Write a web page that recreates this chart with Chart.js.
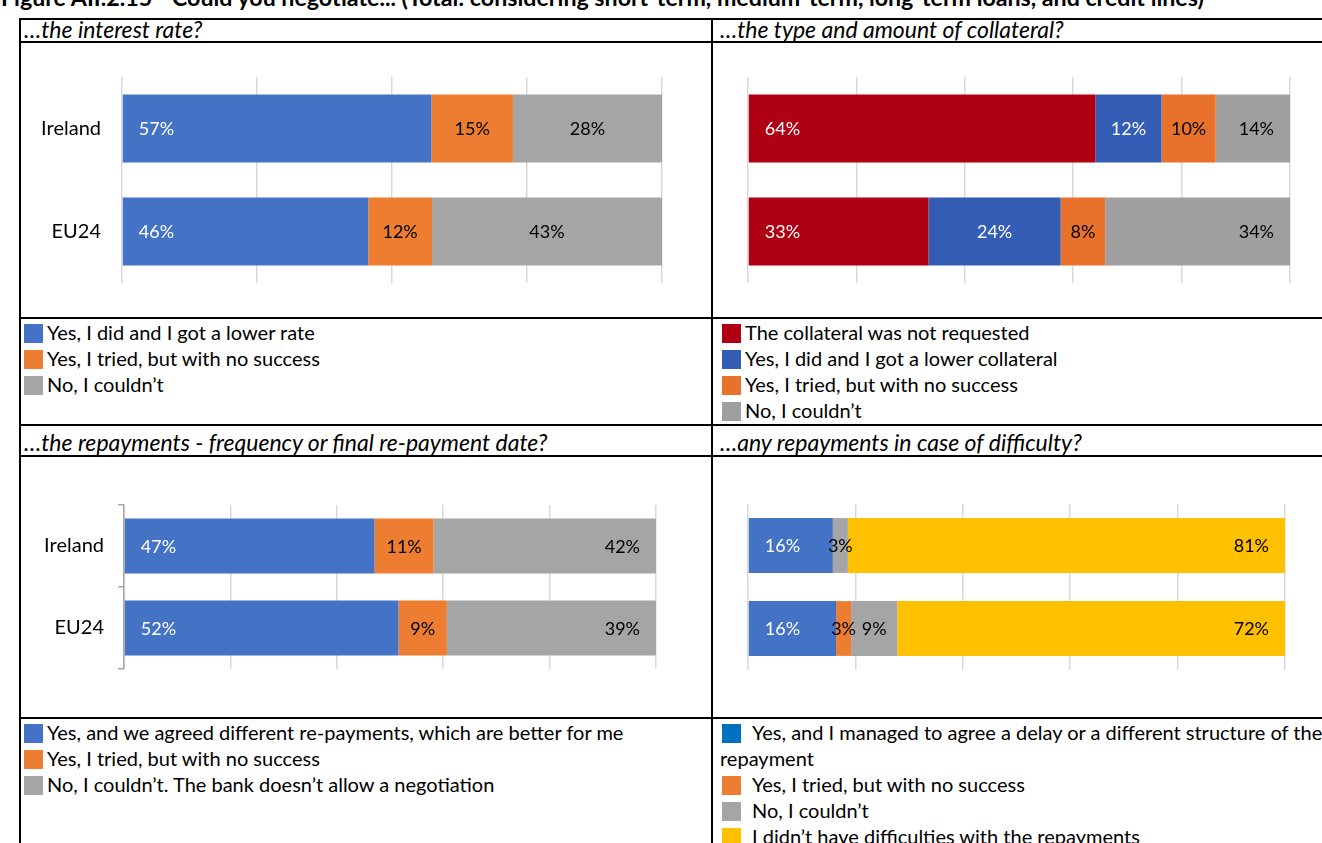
<!DOCTYPE html>
<html>
<head>
<meta charset="utf-8">
<script src="https://cdn.jsdelivr.net/npm/chart.js@4.4.1/dist/chart.umd.min.js"></script>
<style>
  html, body { margin:0; padding:0; background:#fff; }
  body { width:1322px; height:843px; overflow:hidden; position:relative; font-family:Lato, "Open Sans", sans-serif; color:#000; }
  .hl { position:absolute; height:2px; background:#000; z-index:5; }
  .vl { position:absolute; width:2px; background:#000; z-index:5; }
  .title { position:absolute; left:1px; top:-14px; line-height:22px; font-size:23.2px; font-weight:bold; white-space:nowrap; }
  .head { position:absolute; font-style:italic; font-size:23px; line-height:23px; white-space:nowrap; }
  canvas { position:absolute; }
  .legend { position:absolute; font-size:20px; line-height:26px; white-space:nowrap; }
  .legend .item { position:relative; height:26px; }
  .legend .sw { display:inline-block; width:19px; height:19px; vertical-align:-3px; margin-right:4px; }
  .legend.wide .sw { margin-right:11px; }
  .legend .multi { white-space:pre; height:auto; }
</style>
</head>
<body>
<div class="title">Figure AII.2.15 - Could you negotiate... (Total: considering short-term, medium-term, long-term loans, and credit lines)</div>

<div class="hl" style="left:19px; top:18px; width:1303px;"></div>
<div class="hl" style="left:19px; top:41px; width:1303px;"></div>
<div class="hl" style="left:19px; top:317px; width:1303px;"></div>
<div class="hl" style="left:19px; top:424px; width:1303px;"></div>
<div class="hl" style="left:19px; top:455px; width:1303px;"></div>
<div class="hl" style="left:19px; top:717px; width:1303px;"></div>
<div class="vl" style="left:19px; top:18px; height:825px;"></div>
<div class="vl" style="left:711px; top:18px; height:825px;"></div>

<div class="head" style="left:24px; top:18px;">…the interest rate?</div>
<div class="head" style="left:720px; top:18px;">…the type and amount of collateral?</div>
<div class="head" style="left:24px; top:431px;">…the repayments - frequency or final re-payment date?</div>
<div class="head" style="left:720px; top:431px;">…any repayments in case of difficulty?</div>

<canvas id="c1" width="692" height="276" style="left:20px; top:42px;"></canvas>
<canvas id="c2" width="610" height="276" style="left:712px; top:42px;"></canvas>
<canvas id="c3" width="692" height="262" style="left:20px; top:456px;"></canvas>
<canvas id="c4" width="610" height="262" style="left:712px; top:456px;"></canvas>

<div class="legend" id="l1" style="left:24px; top:319px;"></div>
<div class="legend" id="l2" style="left:722px; top:319px;"></div>
<div class="legend" id="l3" style="left:24px; top:719px;"></div>
<div class="legend wide" id="l4" style="left:722px; top:719px;"></div>

<script>
// ---------- DATA ----------
const categories = ['Ireland', 'EU24'];

// Chart 1: ...the interest rate?
const rateSeries = ['Yes, I did and I got a lower rate', 'Yes, I tried, but with no success', 'No, I couldn’t'];
const rateYesLower = [57.3, 45.6];
const rateTried    = [15.1, 11.8];
const rateNo       = [27.6, 42.6];
const rateTicks    = [0, 25, 50, 75, 100];

// Chart 2: ...the type and amount of collateral?
const collSeries = ['The collateral was not requested', 'Yes, I did and I got a lower collateral', 'Yes, I tried, but with no success', 'No, I couldn’t'];
const collNotRequested = [64.1, 33.3];
const collYesLower     = [12.2, 24.4];
const collTried        = [10.0, 8.2];
const collNo           = [13.7, 34.1];
const collTicks        = [0, 20, 40, 60, 80, 100];

// Chart 3: ...the repayments - frequency or final re-payment date?
const repSeries = ['Yes, and we agreed different re-payments, which are better for me', 'Yes, I tried, but with no success', 'No, I couldn’t. The bank doesn’t allow a negotiation'];
const repYesAgreed = [47.1, 51.6];
const repTried     = [11.1, 9.1];
const repNo        = [41.8, 39.3];
const repTicks     = [0, 20, 40, 60, 80, 100];

// Chart 4: ...any repayments in case of difficulty?
const diffSeries = ['Yes, and I managed to agree a delay or a different structure of the\nrepayment', 'Yes, I tried, but with no success', 'No, I couldn’t', 'I didn’t have difficulties with the repayments'];
const diffYesAgreed      = [15.8, 16.4];
const diffTried          = [0, 2.8];
const diffNo             = [2.8, 8.6];
const diffNoDifficulties = [81.4, 72.2];
const diffTicks          = [0, 20, 40, 60, 80, 100];

// ---------- STYLE ----------
const FONT = 'Lato';
const C = { blue:'#4472C4', orange:'#ED7D31', grey:'#A5A5A5', yellow:'#FFC000',
            red:'#AF0014', blue2:'#345EB6', orange2:'#E8722C', grey2:'#9F9F9F', legendBlue4:'#0070C0' };

const labelPlugin = {
  id: 'segLabels',
  afterDatasetsDraw(chart) {
    const ctx = chart.ctx;
    ctx.save();
    ctx.font = '18px ' + FONT;
    ctx.textBaseline = 'middle';
    chart.data.datasets.forEach((ds, di) => {
      const meta = chart.getDatasetMeta(di);
      meta.data.forEach((el, i) => {
        const v = ds.data[i];
        if (!v || v < 0.5) return;
        const txt = Math.round(v) + '%';
        const left = Math.min(el.x, el.base), right = Math.max(el.x, el.base);
        let x;
        if (ds.anchor === 'start') { ctx.textAlign = 'left'; x = left + 16; }
        else if (ds.anchor === 'end') { ctx.textAlign = 'right'; x = right - 16; }
        else { ctx.textAlign = 'center'; x = (left + right) / 2; }
        ctx.fillStyle = ds.labelColor || '#000';
        ctx.fillText(txt, x, el.y + 1);
      });
    });
    ctx.restore();
  }
};

function makeChart(id, cfg) {
  const datasets = cfg.series.map((name, k) => ({
    label: name,
    data: cfg.values[k],
    backgroundColor: cfg.colors[k],
    anchor: cfg.anchors[k],
    labelColor: cfg.labelColors[k],
    categoryPercentage: cfg.catPct,
    barPercentage: 1,
    borderWidth: 0
  }));
  const yScale = {
    stacked: true,
    afterFit: s => { s.width = cfg.yWidth; },
    ticks: { display: cfg.showCats, font: { family: FONT, size: 20 }, color: '#000', padding: cfg.tickPad },
    grid: cfg.yAxisLine ? { display: true, drawOnChartArea: false, drawTicks: true, tickLength: 6, color: '#A6A6A6', lineWidth: 1.5, offset: true }
                        : { display: false, drawTicks: false },
    border: cfg.yAxisLine ? { display: true, color: '#A6A6A6', width: 1.5 } : { display: false }
  };
  return new Chart(document.getElementById(id), {
    type: 'bar',
    data: { labels: categories, datasets },
    options: {
      indexAxis: 'y',
      responsive: false,
      animation: false,
      devicePixelRatio: 1,
      layout: { padding: cfg.padding },
      plugins: { legend: { display: false }, tooltip: { enabled: false } },
      scales: {
        x: {
          stacked: true, min: 0, max: 100,
          afterFit: s => { s.height = 0; },
          afterBuildTicks: s => { s.ticks = cfg.ticks.map(v => ({ value: v })); },
          ticks: { display: false },
          grid: { color: '#D9D9D9', lineWidth: 1.5, drawTicks: false },
          border: { display: false }
        },
        y: yScale
      }
    },
    plugins: [labelPlugin]
  });
}

function makeLegend(id, series, colors) {
  const el = document.getElementById(id);
  series.forEach((name, k) => {
    const row = document.createElement('div');
    row.className = 'item' + (name.indexOf('\n') >= 0 ? ' multi' : '');
    const sw = document.createElement('span');
    sw.className = 'sw';
    sw.style.background = colors[k];
    row.appendChild(sw);
    row.appendChild(document.createTextNode(name));
    if (name.indexOf('\n') >= 0) { row.style.marginLeft = '-2px'; sw.style.marginLeft = '2px'; }
    el.appendChild(row);
  });
}

makeChart('c1', {
  series: rateSeries, values: [rateYesLower, rateTried, rateNo],
  colors: [C.blue, C.orange, C.grey], anchors: ['start', 'center', 'center'],
  labelColors: ['#fff', '#000', '#000'], catPct: 0.66, ticks: rateTicks,
  showCats: true, yWidth: 102, tickPad: 21, yAxisLine: false,
  padding: { left: 0, right: 50, top: 35, bottom: 35 }
});
makeChart('c2', {
  series: collSeries, values: [collNotRequested, collYesLower, collTried, collNo],
  colors: [C.red, C.blue2, C.orange2, C.grey2], anchors: ['start', 'center', 'center', 'end'],
  labelColors: ['#fff', '#fff', '#000', '#000'], catPct: 0.66, ticks: collTicks,
  showCats: false, yWidth: 36, tickPad: 0, yAxisLine: false,
  padding: { left: 0, right: 32, top: 35, bottom: 35 }
});
makeChart('c3', {
  series: repSeries, values: [repYesAgreed, repTried, repNo],
  colors: [C.blue, C.orange, C.grey], anchors: ['start', 'center', 'end'],
  labelColors: ['#fff', '#000', '#000'], catPct: 0.67, ticks: repTicks,
  showCats: true, yWidth: 104, tickPad: 14, yAxisLine: true,
  padding: { left: 0, right: 56, top: 49, bottom: 49 }
});
makeChart('c4', {
  series: diffSeries, values: [diffYesAgreed, diffTried, diffNo, diffNoDifficulties],
  colors: [C.blue, C.orange, C.grey, C.yellow], anchors: ['start', 'center', 'center', 'end'],
  labelColors: ['#fff', '#000', '#000', '#000'], catPct: 0.66, ticks: diffTicks,
  showCats: false, yWidth: 36, tickPad: 0, yAxisLine: false,
  padding: { left: 0, right: 37, top: 48, bottom: 48 }
});

makeLegend('l1', rateSeries, [C.blue, C.orange, C.grey]);
makeLegend('l2', collSeries, [C.red, C.blue2, C.orange2, C.grey2]);
makeLegend('l3', repSeries, [C.blue, C.orange, C.grey]);
makeLegend('l4', diffSeries, [C.legendBlue4, C.orange, C.grey, C.yellow]);
</script>
</body>
</html>
